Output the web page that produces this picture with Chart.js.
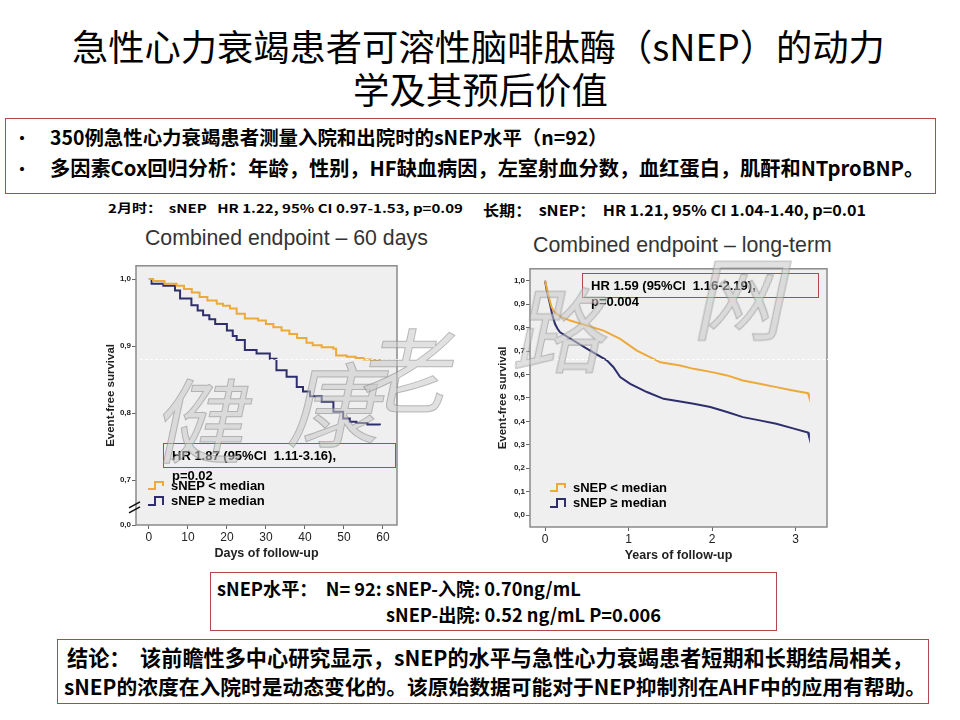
<!DOCTYPE html>
<html>
<head>
<meta charset="utf-8">
<script src="https://cdn.jsdelivr.net/npm/chart.js@4.4.0/dist/chart.umd.min.js"></script>
<style>
  body { margin: 0; width: 960px; height: 720px; background: #fff; position: relative; overflow: hidden;
         font-family: "Noto Sans CJK SC", "Noto Sans", sans-serif; color: #000; }
  .t { position: absolute; white-space: nowrap; }
  .b { font-weight: bold; }
  .box { position: absolute; border: 1.5px solid #b5474a; box-sizing: border-box; }
  .arial { font-family: "Liberation Sans", Arial, sans-serif; }
  .wm { position: absolute; font-size: 92px; line-height: 96px; color: rgba(200,200,200,0.55);
        -webkit-text-stroke: 1px rgba(130,130,130,0.5); transform: skewX(-12deg); font-weight: 400; }
  canvas { position: absolute; }
</style>
</head>
<body>

<!-- titre -->
<div class="t" data-w="813" style="left:72px;top:23px;font-size:33px;line-height:44px">急性心力衰竭患者可溶性脑啡肽酶（sNEP）的动力</div>
<div class="t" data-w="255" style="left:353px;top:66px;font-size:33px;line-height:44px">学及其预后价值</div>

<!-- encadré méthodes -->
<div class="box" style="left:5px;top:118px;width:931px;height:76px"></div>
<div class="t b" style="left:14px;top:125px;font-size:16px;line-height:24px">•</div>
<div class="t b" style="left:14px;top:156px;font-size:16px;line-height:24px">•</div>
<div class="t b" data-w="558" style="left:50px;top:125px;font-size:19px;line-height:24px">350例急性心力衰竭患者测量入院和出院时的sNEP水平（n=92）</div>
<div class="t b" data-w="875" style="left:50px;top:156px;font-size:19px;line-height:24px">多因素Cox回归分析：年龄，性别，HF缺血病因，左室射血分数，血红蛋白，肌酐和NTproBNP。</div>

<!-- sous-titres -->
<div class="t b" data-sx="355" style="left:108px;top:200px;font-size:12px;line-height:16px">2月时：&nbsp; sNEP&nbsp;&nbsp; HR 1.22, 95% CI 0.97-1.53, p=0.09</div>
<div class="t b" data-sx="383" style="left:483px;top:201px;font-size:15px;line-height:18px">长期：&nbsp; sNEP：&nbsp; HR 1.21, 95% CI 1.04-1.40, p=0.01</div>

<div class="t arial" data-w="283" style="left:145px;top:226px;font-size:17px;line-height:24px;color:#333">Combined endpoint – 60 days</div>
<div class="t arial" data-w="299" style="left:533px;top:233px;font-size:17px;line-height:24px;color:#333">Combined endpoint – long-term</div>

<canvas id="km60" width="306" height="305" style="left:96px;top:260px"></canvas>
<canvas id="kmLong" width="344" height="304" style="left:488px;top:263px"></canvas>

<!-- annotations HR -->
<div class="box" style="left:163px;top:443px;width:233px;height:25px;border-color:#b5474a"></div>
<div class="t b arial" style="left:172px;top:447px;font-size:13px;line-height:17px">HR 1.87 (95%CI&nbsp; 1.11-3.16),</div>
<div class="t b arial" style="left:172px;top:467px;font-size:13px;line-height:17px">p=0.02</div>
<div class="box" style="left:582px;top:273px;width:237px;height:25px;border-color:#b5474a"></div>
<div class="t b arial" style="left:591px;top:277px;font-size:13px;line-height:17px">HR 1.59 (95%CI&nbsp; 1.16-2.19),</div>
<div class="t b arial" style="left:591px;top:293px;font-size:13px;line-height:17px">p=0.004</div>

<div id="leg60"></div>
<div id="legLong"></div>

<!-- encadré niveaux -->
<div class="box" style="left:210px;top:572px;width:567px;height:59px"></div>
<div class="t b" data-w="364" style="left:217px;top:577px;font-size:16px;line-height:22px">sNEP水平：&nbsp; N= 92: sNEP-入院: 0.70ng/mL</div>
<div class="t b" data-w="275" style="left:386px;top:603px;font-size:16px;line-height:22px">sNEP-出院: 0.52 ng/mL P=0.006</div>

<!-- encadré conclusion -->
<div class="box" style="left:57px;top:639px;width:872px;height:65px"></div>
<div class="t b" data-w="846" style="left:67px;top:645px;font-size:18px;line-height:24px">结论：&nbsp; 该前瞻性多中心研究显示，sNEP的水平与急性心力衰竭患者短期和长期结局相关，</div>
<div class="t b" data-w="862" style="left:64px;top:674px;font-size:18px;line-height:24px">sNEP的浓度在入院时是动态变化的。该原始数据可能对于NEP抑制剂在AHF中的应用有帮助。</div>

<!-- filigrane -->
<div style="position:absolute;left:140px;top:359px;width:690px;border-top:1px dashed rgba(255,255,255,0.9)"></div>
<div class="wm" style="left:160px;top:368px">健</div>
<div class="wm" style="left:295px;top:352px">康</div>
<div class="wm" style="left:365px;top:318px">老</div>
<div class="wm" style="left:520px;top:278px">路</div>
<div class="wm" style="left:700px;top:246px">网</div>

<script>
// sNEP < median (orange) / sNEP ≥ median (bleu nuit)
const seriesNames = ['sNEP < median', 'sNEP ≥ median'];
const seriesColors = ['#eda93a', '#2d2e6b'];

// 60 jours
const days60Low = [0, 1.1, 4, 7.1, 9, 11, 13, 15, 17.4, 19, 20.8, 22.5, 24.6, 28, 30, 31.9, 34, 36, 38, 40.4, 42, 44.3, 47.3, 48, 50.7, 53, 55, 57, 59.2];
const surv60Low = [1.0, 0.997, 0.993, 0.99, 0.985, 0.98, 0.973, 0.968, 0.963, 0.96, 0.956, 0.948, 0.941, 0.938, 0.933, 0.928, 0.923, 0.918, 0.912, 0.905, 0.901, 0.898, 0.896, 0.886, 0.884, 0.882, 0.880, 0.879, 0.878];
const days60High = [0, 0.7, 3.7, 6.7, 8, 10.9, 12.5, 13.9, 15.5, 17, 20, 21.5, 22.5, 24.6, 27.6, 31, 32.7, 35.3, 37.9, 39.5, 41.3, 44.3, 47.3, 49.8, 51.5, 53.2, 56, 59.2];
const surv60High = [1.0, 0.993, 0.99, 0.983, 0.971, 0.961, 0.953, 0.946, 0.94, 0.933, 0.923, 0.915, 0.909, 0.894, 0.889, 0.881, 0.864, 0.854, 0.839, 0.832, 0.825, 0.817, 0.802, 0.792, 0.787, 0.785, 0.783, 0.782];

// long terme (années)
const yearsLow = [0, 0.02, 0.04, 0.06, 0.08, 0.11, 0.14, 0.2, 0.3, 0.5, 0.7, 0.9, 1.1, 1.3, 1.38, 1.62, 1.78, 2.0, 2.18, 2.37, 2.57, 2.77, 2.97, 3.15, 3.16];
const survLongLow = [1.0, 0.97, 0.94, 0.91, 0.886, 0.868, 0.858, 0.845, 0.83, 0.809, 0.787, 0.752, 0.702, 0.667, 0.652, 0.638, 0.624, 0.61, 0.596, 0.574, 0.56, 0.546, 0.532, 0.52, 0.508];
const yearsHigh = [0, 0.02, 0.04, 0.06, 0.09, 0.12, 0.15, 0.18, 0.34, 0.54, 0.74, 0.82, 0.9, 1.02, 1.22, 1.42, 1.62, 1.78, 1.98, 2.18, 2.37, 2.57, 2.77, 2.97, 3.15, 3.16];
const survLongHigh = [1.0, 0.96, 0.93, 0.9, 0.85, 0.815, 0.795, 0.78, 0.745, 0.702, 0.66, 0.631, 0.589, 0.56, 0.525, 0.496, 0.485, 0.475, 0.461, 0.44, 0.418, 0.404, 0.39, 0.37, 0.352, 0.338];

const xTicks60 = [0, 10, 20, 30, 40, 50, 60];
const yTicks60 = [0.7, 0.8, 0.9, 1.0];
const xTicksLong = [0, 1, 2, 3];
const yTicksLong = [0, 0.1, 0.2, 0.3, 0.4, 0.5, 0.6, 0.7, 0.8, 0.9, 1.0];

const pts = (xs, ys) => xs.map((x, i) => ({ x, y: ys[i] }));
const fmt = v => v.toFixed(1).replace('.', ',');

// fond gris + cadre de la zone de tracé
const plotFrame = {
  id: 'plotFrame',
  beforeDraw(chart) {
    const { ctx, chartArea: a } = chart;
    ctx.save();
    ctx.fillStyle = '#efefef';
    ctx.fillRect(a.left, a.top, a.right - a.left, a.bottom - a.top);
    ctx.restore();
  },
  afterDraw(chart) {
    const { ctx, chartArea: a } = chart;
    ctx.save();
    ctx.strokeStyle = '#8a8a8a';
    ctx.lineWidth = 1.5;
    ctx.strokeRect(a.left, a.top, a.right - a.left, a.bottom - a.top);
    // coupure d'axe (60 jours seulement)
    if (chart.options.plugins.plotFrame && chart.options.plugins.plotFrame.breakAt) {
      const y = chart.scales.y.getPixelForValue(chart.options.plugins.plotFrame.breakAt);
      const x = a.left;
      ctx.strokeStyle = '#111';
      ctx.lineWidth = 1.6;
      ctx.beginPath();
      ctx.moveTo(x - 7, y + 1); ctx.lineTo(x + 4, y - 5);
      ctx.moveTo(x - 7, y + 6); ctx.lineTo(x + 4, y);
      ctx.stroke();
    }
    ctx.restore();
  }
};

function makeKM(id, cfg) {
  return new Chart(document.getElementById(id), {
    type: 'line',
    data: {
      datasets: [
        { label: seriesNames[0], data: cfg.low, borderColor: seriesColors[0] },
        { label: seriesNames[1], data: cfg.high, borderColor: seriesColors[1] }
      ].map(d => Object.assign(d, { stepped: cfg.stepped, borderWidth: 2, pointRadius: 0, fill: false, tension: 0 }))
    },
    options: {
      responsive: false,
      animation: false,
      devicePixelRatio: 1,
      layout: { padding: { top: 5, right: 5, left: 0, bottom: 0 } },
      plugins: {
        legend: { display: false },
        tooltip: { enabled: false },
        plotFrame: { breakAt: cfg.breakAt }
      },
      scales: {
        x: {
          type: 'linear',
          min: cfg.xMin, max: cfg.xMax,
          afterBuildTicks: s => { s.ticks = cfg.xTicks.map(v => ({ value: v })); },
          afterFit: s => { s.height = 40; },
          grid: { drawOnChartArea: false, drawTicks: true, tickLength: 4, color: '#666' },
          border: { display: false },
          ticks: { color: '#222', font: { family: 'Liberation Sans', size: 12 }, padding: 1 },
          title: { display: true, text: cfg.xTitle, color: '#222',
                   font: { family: 'Liberation Sans', size: 12.5, weight: 'bold' }, padding: { top: 0, bottom: 4 } }
        },
        y: {
          min: cfg.yMin, max: cfg.yMax,
          afterBuildTicks: s => { s.ticks = cfg.yTicks.map(v => ({ value: v })); },
          afterFit: s => { s.width = cfg.yWidth; },
          grid: { drawOnChartArea: false, drawTicks: true, tickLength: 4, color: '#666' },
          border: { display: false },
          ticks: {
            color: '#222', padding: 1,
            font: { family: 'Liberation Sans', size: 8, weight: 'bold' },
            callback: v => (v === cfg.yMin ? '0,0' : fmt(v))
          },
          title: { display: true, text: 'Event-free survival', color: '#222',
                   font: { family: 'Liberation Sans', size: 11.5, weight: 'bold' }, padding: { top: 8, bottom: 0 } }
        }
      }
    },
    plugins: [plotFrame]
  });
}

makeKM('km60', {
  low: pts(days60Low, surv60Low), high: pts(days60High, surv60High), stepped: true,
  xMin: -3.3, xMax: 63.6, xTicks: xTicks60, xTitle: 'Days of follow-up',
  yMin: 0.633, yMax: 1.0197, yTicks: [0.633].concat(yTicks60), yWidth: 40, breakAt: 0.66
});

makeKM('kmLong', {
  low: pts(yearsLow, survLongLow), high: pts(yearsHigh, survLongHigh), stepped: false,
  xMin: -0.18, xMax: 3.377, xTicks: xTicksLong, xTitle: 'Years of follow-up',
  yMin: -0.051, yMax: 1.051, yTicks: yTicksLong, yWidth: 42
});

// légendes avec icône en escalier
function legend(el, left, top, size, gap) {
  el.innerHTML = seriesNames.map((name, i) => `
    <div class="t b arial" style="left:${left}px;top:${top + i * gap}px;font-size:${size}px;line-height:${gap}px">
      <svg width="20" height="12" style="vertical-align:-1px;margin-right:4px">
        <path d="M1 ${i ? 11 : 10} H8 V3 H16 V${i ? 11 : 7}" fill="none" stroke="${seriesColors[i]}" stroke-width="2"/>
      </svg>${name}</div>`).join('');
}
legend(document.getElementById('leg60'), 147, 478, 13, 15);
legend(document.getElementById('legLong'), 549, 480, 13, 15);

// ajuste les lignes de texte à la largeur mesurée sur l'image
document.querySelectorAll('[data-w]').forEach(el => {
  const w = el.getBoundingClientRect().width;
  const fs = parseFloat(getComputedStyle(el).fontSize);
  el.style.fontSize = (fs * (+el.dataset.w) / w) + 'px';
});
document.querySelectorAll('[data-sx]').forEach(el => {
  const w = el.getBoundingClientRect().width;
  el.style.transformOrigin = 'left center';
  el.style.transform = `scaleX(${(+el.dataset.sx) / w})`;
});
</script>
</body>
</html>
